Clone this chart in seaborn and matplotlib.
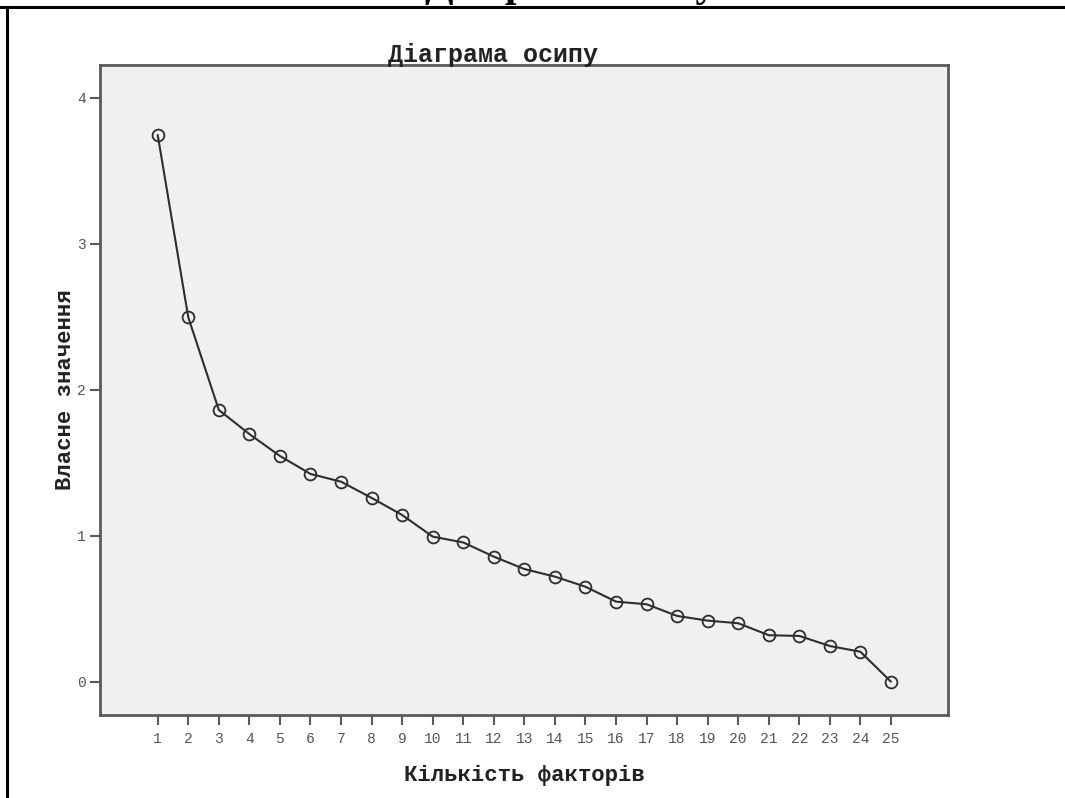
import matplotlib
matplotlib.use("Agg")
import matplotlib.pyplot as plt
from matplotlib.lines import Line2D
import seaborn as sns
import pandas as pd

# Data
factors = list(range(1, 26))
eigenvalues = [3.744, 2.496, 1.862, 1.697, 1.547, 1.424, 1.371, 1.260, 1.143, 0.995,
               0.955, 0.858, 0.773, 0.721, 0.652, 0.550, 0.532, 0.452, 0.420, 0.402,
               0.320, 0.315, 0.246, 0.207, 0.002]
y_ticks = [0, 1, 2, 3, 4]
title_text = "Діаграма осипу"
x_label = "Кількість факторів"
y_label = "Власне значення"

df = pd.DataFrame({"factor": factors, "eigen": eigenvalues})

sns.set_theme(style="white")
plt.rcParams["font.family"] = ["Liberation Mono", "DejaVu Sans Mono"]

W, H = 1065, 798
fig = plt.figure(figsize=(W / 100, H / 100), dpi=100)
fig.patch.set_facecolor("white")

ax = fig.add_axes([100 / W, 1 - 715 / H, 848 / W, 650 / H])
ax.set_facecolor("#f0f0f0")

sns.lineplot(data=df, x="factor", y="eigen", ax=ax, color="#2e2e2e", linewidth=1.5,
             marker="o", markersize=8.5, markerfacecolor="none",
             markeredgecolor="#2e2e2e", markeredgewidth=1.3)

ax.set_xlim(-0.889, 26.866)
ax.set_ylim(-0.226, 4.223)
ax.set_xticks(factors)
ax.set_xticklabels([str(f) for f in factors])
ax.set_yticks(y_ticks)
ax.set_yticklabels([str(t) for t in y_ticks])

for s in ax.spines.values():
    s.set_color("#5a5a5a")
    s.set_linewidth(2.0)

ax.tick_params(axis="both", which="major", direction="out", length=7, width=1.5,
               color="#5a5a5a", labelcolor="#555555", labelsize=10.5,
               bottom=True, left=True, top=False, right=False)
ax.tick_params(axis="x", pad=5)
ax.tick_params(axis="y", pad=3)

ax.set_xlabel(x_label, fontsize=16, fontweight="bold", color="#222222", labelpad=14)
ax.set_ylabel(y_label, fontsize=16, fontweight="bold", color="#222222", labelpad=1)

# chart title just above frame
fig.text(493 / W, 1 - 62 / H, title_text, ha="center", va="baseline",
         fontsize=18, fontweight="bold", color="#222222")

# clipped document heading at the very top (only its lowest parts show)
fig.text(425 / W, 1 + 4 / H, title_text, ha="left", va="baseline",
         fontsize=30, fontweight="bold", color="black",
         family=["Liberation Serif", "DejaVu Serif"])

# page border lines
fig.add_artist(Line2D([0, 1], [1 - 6.5 / H, 1 - 6.5 / H], transform=fig.transFigure,
                      color="black", linewidth=2.2))
fig.add_artist(Line2D([7.3 / W, 7.3 / W], [0, 1 - 6.5 / H], transform=fig.transFigure,
                      color="black", linewidth=2.2))

fig.savefig("out.png", dpi=100)
